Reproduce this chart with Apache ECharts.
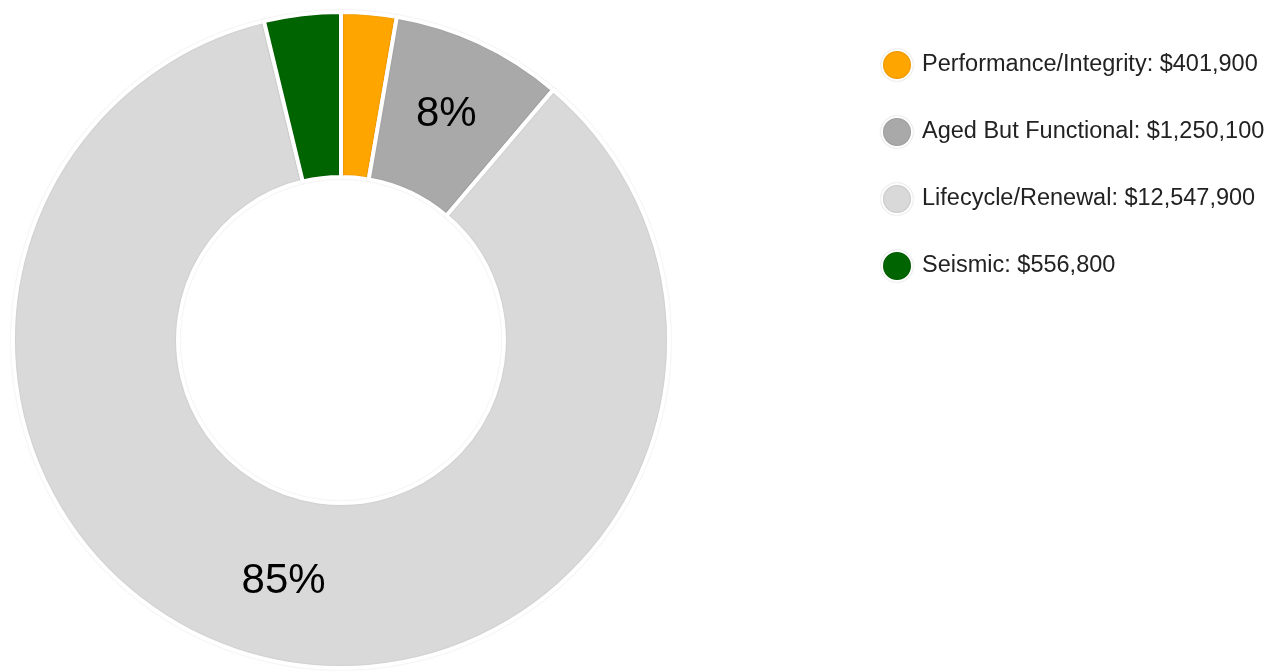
<!DOCTYPE html>
<html>
<head>
<meta charset="utf-8">
<style>
  html, body { margin: 0; padding: 0; background: #ffffff; }
  #chart { width: 1277px; height: 671px; }
</style>
<script src="https://cdn.jsdelivr.net/npm/echarts@6/dist/echarts.min.js"></script>
</head>
<body>
<div id="chart"></div>
<script>
// Funding categories and their dollar totals
const categories = ['Performance/Integrity', 'Aged But Functional', 'Lifecycle/Renewal', 'Seismic'];
const amounts = [401900, 1250100, 12547900, 556800];
const colors = ['#FFA500', '#A9A9A9', '#D9D9D9', '#006400'];

const total = amounts.reduce((a, b) => a + b, 0);
const fmtMoney = v => '$' + v.toLocaleString('en-US');

const chart = echarts.init(document.getElementById('chart'), null, { renderer: 'canvas' });

chart.setOption({
  animation: false,
  backgroundColor: '#ffffff',
  color: colors,
  textStyle: { fontFamily: '"Liberation Sans", Arial, sans-serif' },
  legend: {
    orient: 'vertical',
    left: 881,
    top: 49,
    padding: 0,
    icon: 'circle',
    itemWidth: 30,
    itemHeight: 30,
    itemGap: 35,
    textStyle: { fontSize: 23.5, color: '#222222', padding: [0, 0, 0, 5] },
    itemStyle: { borderColor: '#ffffff', borderWidth: 2, shadowColor: 'rgba(0,0,0,0.2)', shadowBlur: 2 },
    formatter: name => name + ': ' + fmtMoney(amounts[categories.indexOf(name)])
  },
  series: [{
    type: 'pie',
    center: [341, 340],
    radius: [163, 328],
    startAngle: 90,
    clockwise: true,
    avoidLabelOverlap: false,
    itemStyle: {
      borderColor: '#ffffff',
      borderWidth: 4,
      shadowColor: 'rgba(0,0,0,0.12)',
      shadowBlur: 2
    },
    label: {
      show: true,
      position: 'inside',
      fontSize: 42,
      color: '#000000',
      formatter: p => {
        const pct = p.value / total * 100;
        return pct >= 5 ? Math.round(pct) + '%' : '';
      }
    },
    labelLine: { show: false },
    emphasis: { disabled: true },
    data: categories.map((c, i) => ({ name: c, value: amounts[i] }))
  }]
});
</script>
</body>
</html>
